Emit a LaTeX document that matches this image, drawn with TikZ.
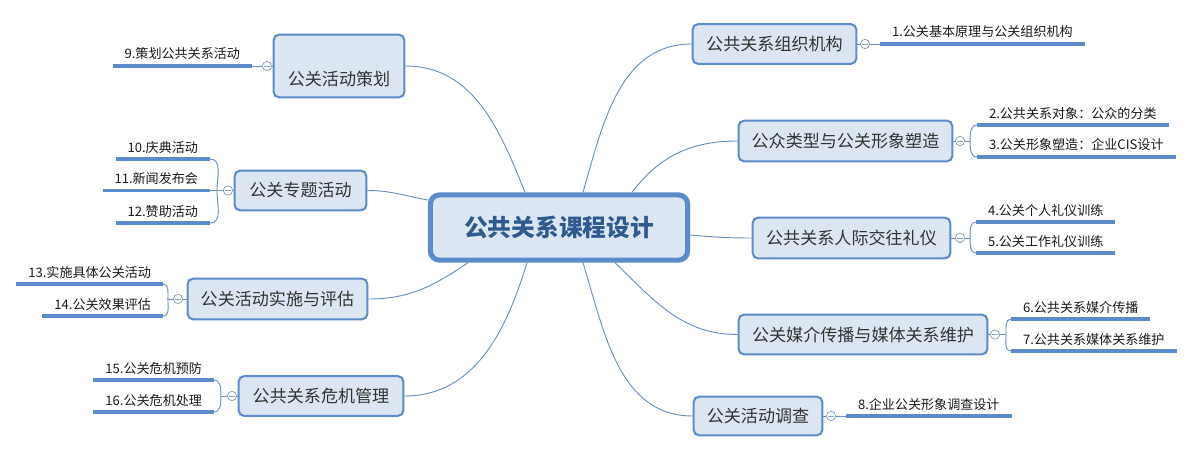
\documentclass[tikz,border=0pt]{standalone}
\usepackage{fontspec}
\setmainfont{Noto Sans CJK SC}
\usetikzlibrary{calc}
\definecolor{boxfill}{HTML}{DCE6F2}
\definecolor{boxline}{HTML}{5B8BC9}
\definecolor{connc}{HTML}{6A8FC0}
\definecolor{ctrtext}{HTML}{2E5A8E}
\definecolor{txt}{HTML}{333333}
\definecolor{circline}{HTML}{8DA3BF}
\begin{document}
\begin{tikzpicture}[x=0.75pt,y=-0.75pt,
 topic/.style={draw=boxline, fill=boxfill, line width=1.5pt, rounded corners=4pt, inner sep=0pt, text=txt, font=\fontsize{12.8}{15}\selectfont},
 topictext/.style={inner sep=0pt, text=txt, font=\fontsize{12.8}{15}\selectfont},
 central/.style={draw=boxline, fill=boxfill, line width=3.8pt, rounded corners=7pt, inner sep=0pt, text=ctrtext, font=\fontsize{17.8}{21}\selectfont\bfseries},
 leaf/.style={inner xsep=9pt, inner ysep=5.25pt, text depth=0pt, outer sep=0pt, text=black!90, font=\fontsize{9.8}{12}\selectfont},
 leafline/.style={draw=boxline, line width=2.8pt},
 conn/.style={draw=connc, line width=0.7pt},
 fold/.style={circle, draw=circline, fill=white, line width=0.6pt, minimum size=7pt, inner sep=0pt,
   path picture={\draw[circline, line width=0.6pt] ([xshift=-2pt]path picture bounding box.center) -- ([xshift=2pt]path picture bounding box.center);}},
]
\useasboundingbox (0,0) rectangle (1193,453);

% central
\node[central, minimum width=193pt, minimum height=49pt] (ctr) at (559,227.5) {公共关系课程设计};

% right branches
\node[topic, minimum width=122.75pt, minimum height=29.75pt] (b1) at (774.5,44) {公共关系组织机构};
\node[topic, minimum width=160.25pt, minimum height=30.5pt] (b2) at (845.5,141) {公众类型与公关形象塑造};
\node[topic, minimum width=148.25pt, minimum height=30.5pt] (b3) at (851.5,238) {公共关系人际交往礼仪};
\node[topic, minimum width=186.5pt, minimum height=29.75pt] (b4) at (863,334.5) {公关媒介传播与媒体关系维护};
\node[topic, minimum width=96.5pt, minimum height=29pt] (b5) at (758,416) {公关活动调查};

% left branches
\node[topic, minimum width=98pt, minimum height=47pt] (b9) at (339,66) {};
\node[topictext] (t9) at (339,79) {公关活动策划};
\node[topic, minimum width=98.75pt, minimum height=29.75pt] (b10) at (300.5,190.5) {公关专题活动};
\node[topic, minimum width=134.75pt, minimum height=30.5pt] (b11) at (277.5,299) {公关活动实施与评估};
\node[topic, minimum width=123.5pt, minimum height=29.75pt] (b12) at (321,396) {公共关系危机管理};

% fold circles
\node[fold] (c1) at (865,44) {};
\node[fold] (c2) at (960,141) {};
\node[fold] (c3) at (960,238) {};
\node[fold] (c4) at (995,334.5) {};
\node[fold] (c5) at (831,416) {};
\node[fold] (c9) at (267,66) {};
\node[fold] (c10) at (228,190.5) {};
\node[fold] (c11) at (178,299) {};
\node[fold] (c12) at (232,396) {};

% leaves right
\node[leaf, anchor=south west] (l1) at (880,44) {1.公关基本原理与公关组织机构};
\node[leaf, anchor=south west] (l2) at (977,125) {2.公共关系对象：公众的分类};
\node[leaf, anchor=south west] (l3) at (977,157) {3.公关形象塑造：企业CIS设计};
\node[leaf, anchor=south west] (l4) at (976,222) {4.公关个人礼仪训练};
\node[leaf, anchor=south west] (l5) at (976,253) {5.公关工作礼仪训练};
\node[leaf, anchor=south west] (l6) at (1011,319) {6.公共关系媒介传播};
\node[leaf, anchor=south west] (l7) at (1011,351) {7.公共关系媒体关系维护};
\node[leaf, anchor=south west] (l8) at (846,416) {8.企业公关形象调查设计};

% leaves left
\node[leaf, anchor=south east] (l9) at (252,66) {9.策划公共关系活动};
\node[leaf, anchor=south east] (l10) at (210,159) {10.庆典活动};
\node[leaf, anchor=south east] (l11) at (210,190.5) {11.新闻发布会};
\node[leaf, anchor=south east] (l12) at (210,223) {12.赞助活动};
\node[leaf, anchor=south east] (l13) at (163,284) {13.实施具体公关活动};
\node[leaf, anchor=south east] (l14) at (163,316) {14.公关效果评估};
\node[leaf, anchor=south east] (l15) at (214,380) {15.公关危机预防};
\node[leaf, anchor=south east] (l16) at (214,412) {16.公关危机处理};

\foreach \l in {l1,l2,l3,l4,l5,l6,l7,l8,l9,l10,l11,l12,l13,l14,l15,l16}
  \draw[leafline] (\l.south west) -- (\l.south east);

% central connectors
\draw[conn] ($(ctr.north)+(-34,0)$) to[out=112,in=0] (b9.east);
\draw[conn] ($(ctr.north)+(24,0)$) to[out=74,in=180] (b1.west);
\draw[conn] ($(ctr.north)+(73,0)$) to[out=53,in=180] (b2.west);
\draw[conn] ($(ctr.east)+(0,7.5)$) to[out=-5,in=180] (b3.west);
\draw[conn] ($(ctr.south)+(56,0)$) to[out=-44,in=180] (b4.west);
\draw[conn] ($(ctr.south)+(24,0)$) to[out=-73,in=180] (b5.west);
\draw[conn] ($(ctr.south)+(-32,0)$) to[out=-107,in=0] (b12.east);
\draw[conn] ($(ctr.south)+(-91,0)$) to[out=-146,in=0] (b11.east);
\draw[conn] ($(ctr.west)+(0,-27.5)$) to[out=170,in=0] (b10.east);

% branch to fold circles
\foreach \b/\c in {b1/c1,b2/c2,b3/c3,b4/c4,b5/c5}
  \draw[conn] (\b.east) -- (\c.west);
\foreach \b/\c in {b9/c9,b10/c10,b11/c11,b12/c12}
  \draw[conn] (\b.west) -- (\c.east);

% fold circles to leaves: single
\draw[conn] (c1.east) -- (l1.south west);
\draw[conn] (c5.east) -- (l8.south west);
\draw[conn] (c9.west) -- (l9.south east);
\draw[conn] (c10.west) -- (l11.south east);

% fold circles to leaves: grouped right
\draw[conn] (c2.east) -- ++(5,0) coordinate (j2);
\draw[conn] (j2) to[out=90,in=180] (l2.south west);
\draw[conn] (j2) to[out=-90,in=180] (l3.south west);
\draw[conn] (c3.east) -- ++(5,0) coordinate (j3);
\draw[conn] (j3) to[out=90,in=180] (l4.south west);
\draw[conn] (j3) to[out=-90,in=180] (l5.south west);
\draw[conn] (c4.east) -- ++(6,0) coordinate (j4);
\draw[conn] (j4) to[out=90,in=180] (l6.south west);
\draw[conn] (j4) to[out=-90,in=180] (l7.south west);

% grouped left
\draw[conn] (c10.west) -- ++(-6,0) coordinate (j10);
\draw[conn] (j10) to[out=90,in=0] (l10.south east);
\draw[conn] (j10) to[out=-90,in=0] (l12.south east);
\draw[conn] (c11.west) -- ++(-5,0) coordinate (j11);
\draw[conn] (j11) to[out=90,in=0] (l13.south east);
\draw[conn] (j11) to[out=-90,in=0] (l14.south east);
\draw[conn] (c12.west) -- ++(-6,0) coordinate (j12);
\draw[conn] (j12) to[out=90,in=0] (l15.south east);
\draw[conn] (j12) to[out=-90,in=0] (l16.south east);
\end{tikzpicture}
\end{document}
